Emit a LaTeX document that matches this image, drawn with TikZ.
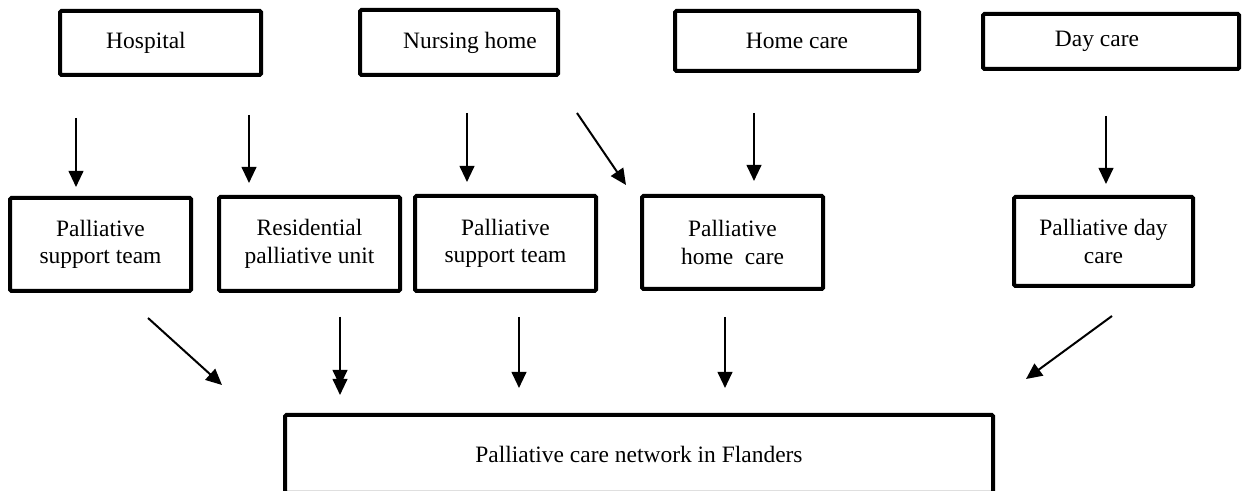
\documentclass[tikz,border=0pt]{standalone}
\usepackage{fontspec}
\setmainfont{Liberation Serif}
\usetikzlibrary{arrows.meta}
\begin{document}
\begin{tikzpicture}[x=0.75pt,y=-0.75pt,
  box/.style={draw=black,line width=3pt,rounded corners=1pt,fill=none,inner sep=0pt,
    font=\fontsize{17.6}{20.5}\selectfont,align=center},
  lbl/.style={inner sep=0pt,font=\fontsize{17.6}{20.5}\selectfont,align=center},
  arr/.style={line width=1.5pt,-{Triangle[length=12pt,width=11pt]}}]
\useasboundingbox (0,0) rectangle (1243,491);
% top row
\node[box,minimum width=150.75pt,minimum height=48pt] (hosp) at (160.5,43) {};
\node[lbl] (hospT) at (146,43) {Hospital};
\node[box,minimum width=148.5pt,minimum height=48.75pt] (nurs) at (459,42.5) {};
\node[lbl] (nursT) at (470,42.5) {Nursing home};
\node[box,minimum width=183pt,minimum height=45pt] (home) at (797,41) {Home care};
\node[box,minimum width=192pt,minimum height=41.25pt] (day) at (1111,41.5) {};
\node[lbl] (dayT) at (1097,41.5) {Day care};
% middle row
\node[box,minimum width=135.75pt,minimum height=69.75pt] (pst1) at (100.5,244.5) {Palliative\\support team};
\node[box,minimum width=135.75pt,minimum height=70.5pt] (res) at (309.5,244) {Residential\\palliative unit};
\node[box,minimum width=135.75pt,minimum height=71.25pt] (pst2) at (505.5,243.5) {Palliative\\support team};
\node[box,minimum width=135.75pt,minimum height=69.75pt] (phc) at (732.5,242.5) {Palliative\\home\ \ care};
\node[box,minimum width=134.25pt,minimum height=66.75pt] (pdc) at (1103.5,241.5) {Palliative day\\care};
% bottom
\node[box,minimum width=531pt,minimum height=58.5pt] (net) at (639,454) {Palliative care network in Flanders};
% arrow ends
\coordinate (a1s) at (76,118);   \coordinate (a1e) at (76,187);
\coordinate (a2s) at (249,115);  \coordinate (a2e) at (249,183);
\coordinate (a3s) at (467,113);  \coordinate (a3e) at (467,182);
\coordinate (a4s) at (577,113);  \coordinate (a4e) at (626,185);
\coordinate (a5s) at (754,113);  \coordinate (a5e) at (754,181);
\coordinate (a6s) at (1106,116); \coordinate (a6e) at (1106,184);
\coordinate (b1s) at (148,318);  \coordinate (b1e) at (222,385);
\coordinate (b2s) at (340,317);  \coordinate (b2e) at (340,395); \coordinate (b2m) at (340,386);
\coordinate (b3s) at (519,317);  \coordinate (b3e) at (519,388);
\coordinate (b4s) at (725,317);  \coordinate (b4e) at (725,388);
\coordinate (b5s) at (1112,316); \coordinate (b5e) at (1026,379);
\draw[arr] (a1s) -- (a1e);
\draw[arr] (a2s) -- (a2e);
\draw[arr] (a3s) -- (a3e);
\draw[arr] (a4s) -- (a4e);
\draw[arr] (a5s) -- (a5e);
\draw[arr] (a6s) -- (a6e);
\draw[arr] (b1s) -- (b1e);
\draw[arr] (b2s) -- (b2e);
\draw[arr] (b2s) -- (b2m);
\draw[arr] (b3s) -- (b3e);
\draw[arr] (b4s) -- (b4e);
\draw[arr] (b5s) -- (b5e);
\end{tikzpicture}
\end{document}
